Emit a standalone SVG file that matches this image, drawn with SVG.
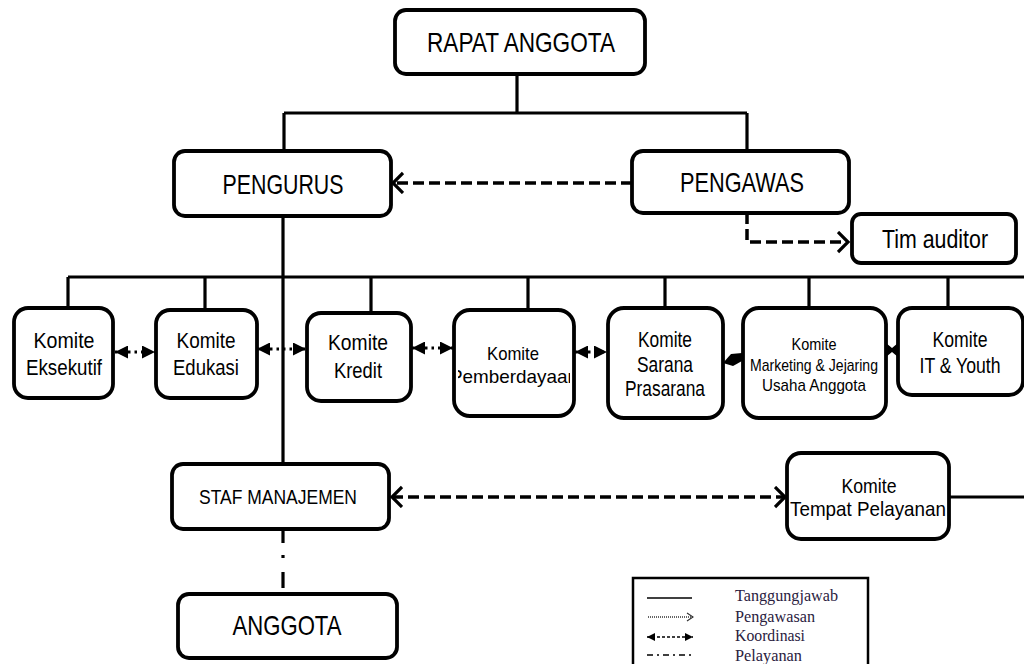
<svg xmlns="http://www.w3.org/2000/svg" width="1024" height="664" viewBox="0 0 1024 664">
<style>
.box{fill:#fff;stroke:#000;stroke-width:3.8}
.t{font-family:"Liberation Sans",Arial,sans-serif;fill:#000;text-anchor:middle}
.ln{stroke:#000;stroke-width:3.2;fill:none}
.dash{stroke:#000;stroke-width:3.5;fill:none;stroke-dasharray:11 5}
.dot{stroke:#000;stroke-width:2.8;fill:none;stroke-dasharray:2.5 4}
.lg{font-family:"Liberation Serif","Times New Roman",serif;fill:#2a2140;font-size:17px}
</style>
<defs>
<marker id="chev" markerUnits="userSpaceOnUse" markerWidth="14" markerHeight="24" refX="11" refY="11" orient="auto-start-reverse" viewBox="0 0 14 24">
<path d="M1,1 L11,11 L1,21" fill="none" stroke="#000" stroke-width="3.2"/>
</marker>
<marker id="tri" markerUnits="userSpaceOnUse" markerWidth="13" markerHeight="13" refX="13" refY="6.5" orient="auto-start-reverse" viewBox="0 0 13 13">
<path d="M0,0 L13,6.5 L0,13 z" fill="#000"/>
</marker>
<marker id="lchev" markerUnits="userSpaceOnUse" markerWidth="8" markerHeight="10" refX="7" refY="5" orient="auto" viewBox="0 0 8 10">
<path d="M1,1 L7,5 L1,9" fill="none" stroke="#333" stroke-width="1.2"/>
</marker>
<marker id="ltri" markerUnits="userSpaceOnUse" markerWidth="8" markerHeight="8" refX="8" refY="4" orient="auto-start-reverse" viewBox="0 0 8 8">
<path d="M0,0 L8,4 L0,8 z" fill="#000"/>
</marker>
<clipPath id="clipPem"><rect x="458" y="312" width="112" height="102"/></clipPath>
</defs>

<g id="connectors">
<path class="ln" d="M517,74 V113 M284,113 H747 M284,113 V151 M747,113 V151"/>
<path class="ln" d="M283,216 V464"/>
<path class="ln" d="M68,277 H1024 M68,277 V308 M205,277 V310 M371,277 V313 M528,277 V310 M665,277 V308 M809,277 V308 M948,277 V308"/>
<path class="ln" d="M949,497 H1024"/>
<line class="dash" x1="632" y1="183" x2="393" y2="183" marker-end="url(#chev)"/>
<path class="dash" d="M747,213 V242 H848" marker-end="url(#chev)"/>
<line class="dash" x1="392" y1="497" x2="785" y2="497" marker-start="url(#chev)" marker-end="url(#chev)"/>
<path class="ln" d="M283,530 V588" stroke-dasharray="13 12 3 14 16 20"/>
<line class="dot" x1="115" y1="352" x2="155" y2="352" marker-start="url(#tri)" marker-end="url(#tri)"/>
<line class="dot" x1="257" y1="349" x2="306" y2="349" marker-start="url(#tri)" marker-end="url(#tri)"/>
<line class="dot" x1="412" y1="348" x2="453" y2="348" marker-start="url(#tri)" marker-end="url(#tri)"/>
<line class="dot" x1="575" y1="352" x2="607" y2="352" marker-start="url(#tri)" marker-end="url(#tri)"/>
<path d="M723,363 L731,354 L742,353 L742,361 L733,366 Z" fill="#000"/>
<path d="M886,343 L892,348 L898,343 L898,357 L892,352 L886,357 Z" fill="#000"/>
</g>

<g id="rapat-anggota"><rect class="box" x="395" y="10" width="250" height="64" rx="11"/><text class="t" x="521" y="52" font-size="28" textLength="188" lengthAdjust="spacingAndGlyphs">RAPAT ANGGOTA</text></g>
<g id="pengurus"><rect class="box" x="174" y="151" width="217" height="65" rx="11"/><text class="t" x="283" y="194" font-size="28" textLength="121" lengthAdjust="spacingAndGlyphs">PENGURUS</text></g>
<g id="pengawas"><rect class="box" x="632" y="151" width="217" height="62" rx="11"/><text class="t" x="742" y="192" font-size="28" textLength="124" lengthAdjust="spacingAndGlyphs">PENGAWAS</text></g>
<g id="tim-auditor"><rect class="box" x="852" y="214" width="164" height="49" rx="9"/><text class="t" x="935" y="248" font-size="26" textLength="106" lengthAdjust="spacingAndGlyphs">Tim auditor</text></g>

<g id="komite-eksekutif"><rect class="box" x="14" y="308" width="99" height="90" rx="14"/><text class="t" x="64" y="348" font-size="22" textLength="61" lengthAdjust="spacingAndGlyphs">Komite</text><text class="t" x="64" y="375" font-size="22" textLength="76" lengthAdjust="spacingAndGlyphs">Eksekutif</text></g>
<g id="komite-edukasi"><rect class="box" x="156" y="310" width="101" height="88" rx="14"/><text class="t" x="206" y="348" font-size="22" textLength="59" lengthAdjust="spacingAndGlyphs">Komite</text><text class="t" x="206" y="375" font-size="22" textLength="66" lengthAdjust="spacingAndGlyphs">Edukasi</text></g>
<g id="komite-kredit"><rect class="box" x="307" y="313" width="104" height="88" rx="14"/><text class="t" x="358" y="350" font-size="22" textLength="60" lengthAdjust="spacingAndGlyphs">Komite</text><text class="t" x="358" y="378" font-size="22" textLength="48" lengthAdjust="spacingAndGlyphs">Kredit</text></g>
<g id="komite-pemberdayaan"><rect class="box" x="454" y="310" width="120" height="106" rx="16"/><text class="t" x="513" y="360" font-size="19" textLength="52" lengthAdjust="spacingAndGlyphs">Komite</text><g clip-path="url(#clipPem)"><text class="t" x="514" y="383" font-size="19" textLength="128" lengthAdjust="spacingAndGlyphs">Pemberdayaan</text></g></g>
<g id="komite-sarana-prasarana"><rect class="box" x="608" y="308" width="115" height="110" rx="16"/><text class="t" x="665" y="347" font-size="22" textLength="54" lengthAdjust="spacingAndGlyphs">Komite</text><text class="t" x="665" y="372" font-size="22" textLength="56" lengthAdjust="spacingAndGlyphs">Sarana</text><text class="t" x="665" y="396" font-size="22" textLength="80" lengthAdjust="spacingAndGlyphs">Prasarana</text></g>
<g id="komite-marketing"><rect class="box" x="743" y="308" width="143" height="110" rx="16"/><text class="t" x="814" y="350" font-size="17" textLength="45" lengthAdjust="spacingAndGlyphs">Komite</text><text class="t" x="814" y="371" font-size="17" textLength="128" lengthAdjust="spacingAndGlyphs">Marketing &amp; Jejaring</text><text class="t" x="814" y="391" font-size="17" textLength="104" lengthAdjust="spacingAndGlyphs">Usaha Anggota</text></g>
<g id="komite-it-youth"><rect class="box" x="898" y="308" width="125" height="87" rx="14"/><text class="t" x="960" y="347" font-size="22" textLength="55" lengthAdjust="spacingAndGlyphs">Komite</text><text class="t" x="960" y="373" font-size="22" textLength="81" lengthAdjust="spacingAndGlyphs">IT &amp; Youth</text></g>

<g id="staf-manajemen"><rect class="box" x="172" y="464" width="217" height="65" rx="11"/><text class="t" x="278" y="504" font-size="21" textLength="158" lengthAdjust="spacingAndGlyphs">STAF MANAJEMEN</text></g>
<g id="komite-tempat-pelayanan"><rect class="box" x="787" y="453" width="162" height="86" rx="14"/><text class="t" x="869" y="493" font-size="21" textLength="55" lengthAdjust="spacingAndGlyphs">Komite</text><text class="t" x="868" y="516" font-size="21" textLength="156" lengthAdjust="spacingAndGlyphs">Tempat Pelayanan</text></g>
<g id="anggota"><rect class="box" x="178" y="594" width="219" height="64" rx="11"/><text class="t" x="287" y="635" font-size="28" textLength="109" lengthAdjust="spacingAndGlyphs">ANGGOTA</text></g>

<g id="legend">
<rect x="633" y="578" width="235" height="100" fill="#fff" stroke="#000" stroke-width="2.5"/>
<line x1="647" y1="598" x2="692" y2="598" stroke="#000" stroke-width="1.5"/>
<line x1="648" y1="617" x2="693" y2="617" stroke="#333" stroke-width="1.3" stroke-dasharray="1 1" marker-end="url(#lchev)"/>
<line x1="647" y1="637" x2="693" y2="637" stroke="#000" stroke-width="1.5" stroke-dasharray="3 2" marker-start="url(#ltri)" marker-end="url(#ltri)"/>
<line x1="647" y1="655" x2="693" y2="655" stroke="#000" stroke-width="1.3" stroke-dasharray="6 4 2 4"/>
<text class="lg" x="735" y="601" textLength="103" lengthAdjust="spacingAndGlyphs">Tanggungjawab</text>
<text class="lg" x="735" y="622" textLength="80" lengthAdjust="spacingAndGlyphs">Pengawasan</text>
<text class="lg" x="735" y="641" textLength="70" lengthAdjust="spacingAndGlyphs">Koordinasi</text>
<text class="lg" x="735" y="661" textLength="67" lengthAdjust="spacingAndGlyphs">Pelayanan</text>
</g>
</svg>
